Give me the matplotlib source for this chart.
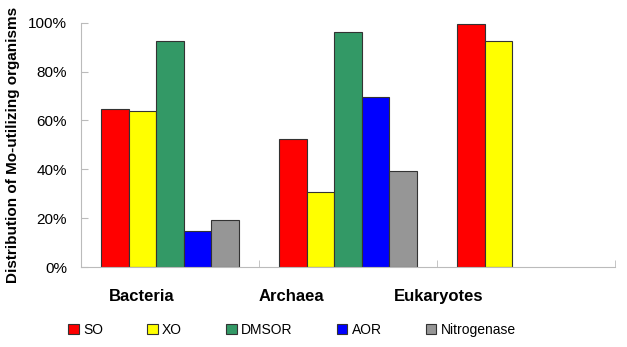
import numpy as np
import matplotlib.pyplot as plt

plt.rcParams['font.family'] = ['Liberation Sans', 'DejaVu Sans']

groups = ["Bacteria", "Archaea", "Eukaryotes"]
enzymes = ["SO", "XO", "DMSOR", "AOR", "Nitrogenase"]
colors = ["#FF0000", "#FFFF00", "#339966", "#0000FF", "#969696"]
values = {
    "SO":          [64.7, 52.3, 99.3],
    "XO":          [63.9, 30.6, 92.6],
    "DMSOR":       [92.6, 96.1, 0],
    "AOR":         [14.7, 69.7, 0],
    "Nitrogenase": [19.2, 39.3, 0],
}
yticks = [0, 20, 40, 60, 80, 100]
label_pos = [-0.16, 0.68, 1.51]

fig = plt.figure(figsize=(6.27, 3.47), dpi=100)
ax = fig.add_axes([0.129, 0.2305, 0.852, 0.704])

x = np.arange(len(groups))
w = 0.155
for i, name in enumerate(enzymes):
    vals = np.array(values[name])
    pos = x + (i - 2) * w
    keep = vals > 0
    ax.bar(pos[keep], vals[keep], width=w, color=colors[i], edgecolor="#333333",
           linewidth=0.8, label=name)

ax.set_xlim(-0.5, 2.5)
ax.set_ylim(0, 100)
ax.set_yticks(yticks)
ax.set_yticklabels([f"{t}%" for t in yticks], fontsize=11)
ax.set_ylabel("Distribution of Mo-utilizing organisms", fontsize=11,
              fontweight="bold", labelpad=6)

ax.set_xticks(label_pos)
ax.set_xticklabels(groups, fontsize=12, fontweight="bold")
ax.tick_params(axis="x", which="major", length=0, pad=16)
ax.set_xticks([0.5, 1.5, 2.5], minor=True)
ax.tick_params(axis="x", which="minor", direction="in", length=5, color="#BBBBBB")
ax.tick_params(axis="y", direction="in", length=5, color="#BBBBBB", pad=10)

for s in ["top", "right"]:
    ax.spines[s].set_visible(False)
for s in ["left", "bottom"]:
    ax.spines[s].set_color("#BBBBBB")

fig.legend(loc="center", bbox_to_anchor=(292 / 627, 1 - 330 / 347), ncol=5,
           frameon=False, fontsize=10, handlelength=0.75, handleheight=0.75,
           handletextpad=0.3, columnspacing=3.2)

fig.savefig("out.png", dpi=100)
